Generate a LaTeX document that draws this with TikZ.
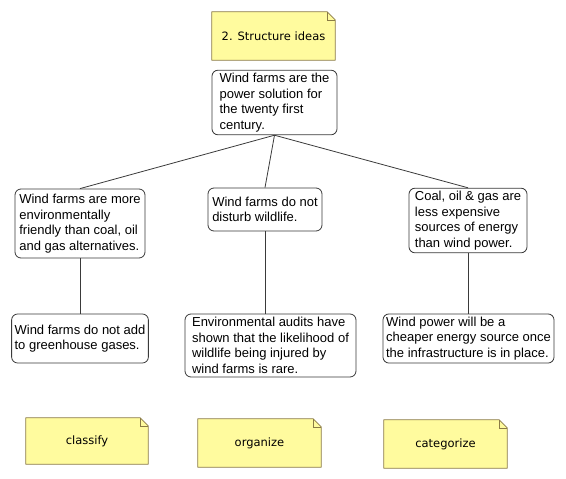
\documentclass[tikz,border=0pt]{standalone}
\usepackage{fontspec}
\setmainfont{Liberation Sans}
\newfontfamily\notefont{DejaVu Sans}
\usetikzlibrary{backgrounds}
\definecolor{notefill}{HTML}{FFFB9E}
\definecolor{noteline}{HTML}{8A7B45}
\definecolor{boxline}{HTML}{3A3A3A}

\begin{document}
\begin{tikzpicture}[x=1pt, y=-1pt,
  idea/.style={rectangle, rounded corners=6pt, draw=boxline, fill=white,
               align=left, line width=0.8pt, inner sep=3pt,
               font=\fontsize{13}{15.5}\selectfont},
  note/.style={rectangle, align=center, inner sep=0pt,
               font=\notefont\fontsize{11.5}{13}\selectfont},
  notebox/.style={draw=noteline, fill=notefill, line width=0.8pt, line join=round},
  link/.style={draw=boxline, line width=0.8pt},
]
\useasboundingbox (0,0) rectangle (566,479);

% notes
\node[note, minimum width=123pt, minimum height=48pt] (title)      at (273.5,36) {2. Structure ideas};
\node[note, minimum width=122pt, minimum height=46pt] (classify)   at (87,441)    {classify};
\node[note, minimum width=123pt, minimum height=48pt] (organize)   at (259.5,443) {organize};
\node[note, minimum width=123pt, minimum height=48pt] (categorize) at (445.5,444) {categorize};

% ideas
\node[idea, minimum width=125pt, minimum height=61pt] (root) at (274.5,102.5)
  {Wind farms are the\\power solution for\\the twenty first\\century.};
\node[idea, minimum width=130pt, minimum height=69pt] (a) at (80,223.5)
  {Wind farms are more\\environmentally\\friendly than coal, oil\\and gas alternatives.};
\node[idea, minimum width=114pt, minimum height=43pt] (b) at (265,209.5)
  {Wind farms do not\\disturb wildlife.};
\node[idea, minimum width=118pt, minimum height=63pt] (c) at (468,220.5)
  {Coal, oil \& gas are\\less expensive\\sources of energy\\than wind power.};
\node[idea, minimum width=136pt, minimum height=49pt] (aa) at (80,338.5)
  {Wind farms do not add\\to greenhouse gases.};
\node[idea, minimum width=171pt, minimum height=63pt] (bb) at (270.5,345.5)
  {Environmental audits have\\shown that the likelihood of\\wildlife being injured by\\wind farms is rare.};
\node[idea, minimum width=171pt, minimum height=49pt] (cc) at (468.5,338.5)
  {Wind power will be a\\cheaper energy source once\\the infrastructure is in place.};

\draw[link] (root.south) -- (a.north);
\draw[link] (root.south) -- (b.north);
\draw[link] (root.south) -- (c.north);
\draw[link] (a) -- (aa);
\draw[link] (b.south) -- (b.south |- bb.north);
\draw[link] (c.south) -- (c.south |- cc.north);

\begin{scope}[on background layer]
  \foreach \n in {title, classify, organize, categorize} {
    \draw[notebox] (\n.north west) -- ([xshift=-8pt]\n.north east)
      -- ([yshift=-8pt]\n.north east) -- (\n.south east) -- (\n.south west) -- cycle;
    \draw[noteline, line width=0.6pt] ([xshift=-8pt]\n.north east)
      -- ([xshift=-8pt, yshift=-8pt]\n.north east) -- ([yshift=-8pt]\n.north east);
  }
\end{scope}
\end{tikzpicture}
\end{document}
